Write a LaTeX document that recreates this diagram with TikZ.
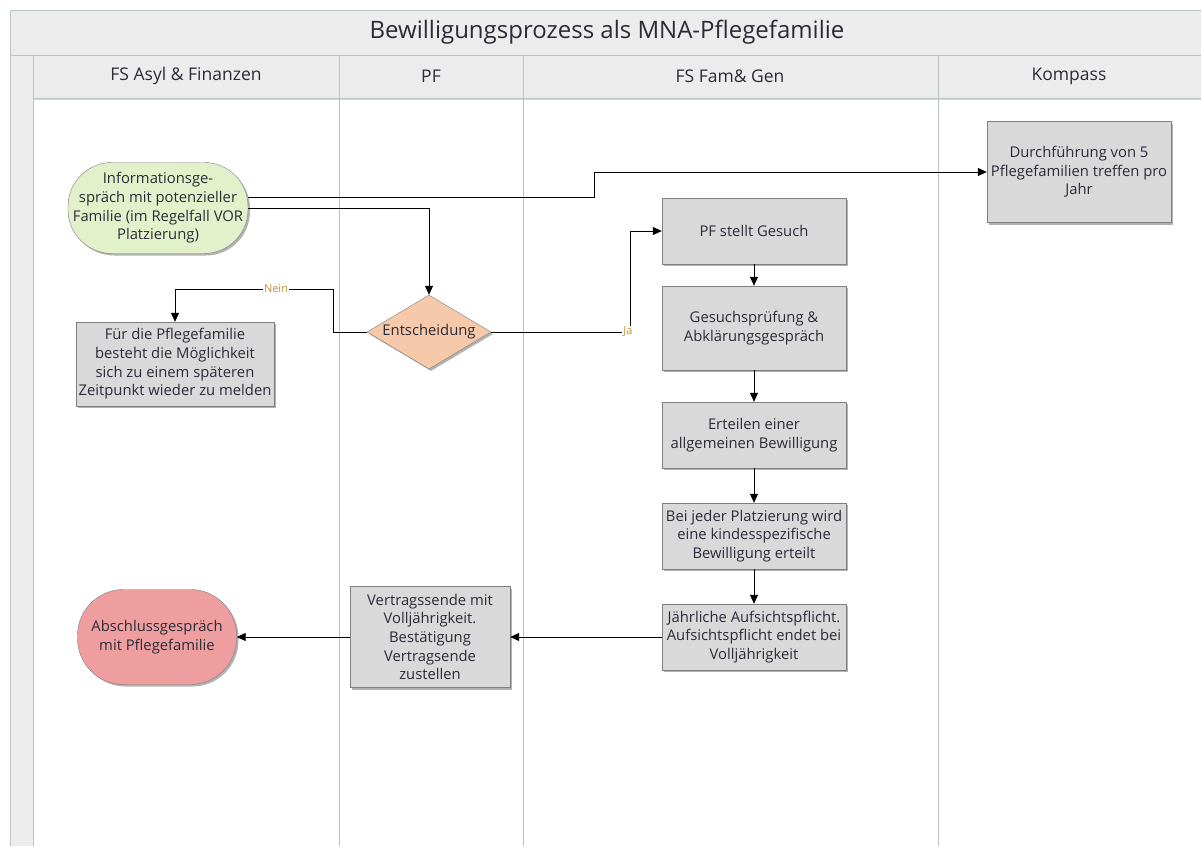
\documentclass[tikz,border=0pt]{standalone}
\usepackage{fontspec}
\setmainfont{Open Sans}
\usetikzlibrary{shapes.geometric,arrows.meta,shadows,calc}
\definecolor{frame}{HTML}{B7C7BF}
\definecolor{band}{HTML}{ECECEC}
\definecolor{boxfill}{HTML}{D9D9D9}
\definecolor{boxline}{HTML}{7F7F7F}
\definecolor{txt}{HTML}{2B2B38}
\definecolor{startfill}{HTML}{E3F1CB}
\definecolor{endfill}{HTML}{EE9E9E}
\definecolor{decfill}{HTML}{F5C9A9}
\definecolor{lbl}{HTML}{C0913A}
\begin{document}
\begin{tikzpicture}[x=1pt,y=-1pt,
  font=\fontsize{14.8}{18.7}\selectfont,
  shade/.style={drop shadow={shadow xshift=2pt,shadow yshift=-2pt,opacity=0.3,fill=black}},
  proc/.style={rectangle,draw=boxline,fill=boxfill,text=txt,align=center,
    minimum width=184pt,inner sep=1pt,shade},
  term/.style={rectangle,draw=boxline,text=txt,align=center,
    inner sep=1pt,shade},
  decision/.style={diamond,draw=boxline,fill=decfill,text=txt,aspect=1.68,
    minimum width=124pt,minimum height=74pt,inner sep=0pt,shade},
  arr/.style={draw=black,line width=0.8pt,-{Triangle[length=9pt,width=8pt]}},
  lane/.style={draw=frame,line width=0.9pt},
  head/.style={text=txt,font=\fontsize{17.5}{20}\selectfont},
  yn/.style={text=lbl,fill=white,inner sep=1pt,font=\fontsize{11}{13}\selectfont}]
\useasboundingbox (0,0) rectangle (1201,846);
\fill[white] (0,0) rectangle (1201,846);

% pool and lanes
\fill[band] (10,10) rectangle (1201,55);
\fill[band] (10,55) rectangle (33,846);
\fill[band] (33,55) rectangle (1201,98);
\draw[lane] (1201,10) -- (10,10) -- (10,846);
\draw[lane] (10,55) -- (1201,55);
\draw[lane] (33,98) -- (1201,98);
\draw[draw=black!15,line width=1.5pt] (33,99.5) -- (1201,99.5);
\foreach \x in {33,339,523,938} \draw[lane] (\x,55) -- (\x,846);

\node[text=txt,font=\fontsize{24}{28}\selectfont] (title) at (607,32) {Bewilligungsprozess als MNA-Pflegefamilie};
\node[head] (h1) at (186,76) {FS Asyl \& Finanzen};
\node[head] (h2) at (431,76) {PF};
\node[head] (h3) at (730,76) {FS Fam\& Gen};
\node[head] (h4) at (1069,76) {Kompass};

% process steps
\node[term,fill=startfill,rounded corners=44pt,minimum width=180pt,minimum height=91pt] (info) at (158,208)
  {Informationsge-\\spräch mit potenzieller\\Familie (im Regelfall VOR\\Platzierung)};
\node[proc,minimum height=101pt] (kompass) at (1079,172)
  {Durchführung von 5\\Pflegefamilien treffen pro\\Jahr};
\node[decision] (dec) at (429,332) {Entscheidung};
\node[proc,minimum width=198pt,minimum height=84pt] (later) at (175,364)
  {Für die Pflegefamilie\\besteht die Möglichkeit\\sich zu einem späteren\\Zeitpunkt wieder zu melden};
\node[proc,minimum height=66pt] (gesuch) at (754,231) {PF stellt Gesuch};
\node[proc,minimum height=84pt] (pruef) at (754,328) {Gesuchsprüfung \&\\Abklärungsgespräch};
\node[proc,minimum height=66pt] (allg) at (754,435) {Erteilen einer\\allgemeinen Bewilligung};
\node[proc,minimum height=66pt] (kind) at (754,536) {Bei jeder Platzierung wird\\eine kindesspezifische\\Bewilligung erteilt};
\node[proc,minimum height=66pt] (aufsicht) at (754,637) {Jährliche Aufsichtspflicht.\\Aufsichtspflicht endet bei\\Volljährigkeit};
\node[proc,minimum width=160pt,minimum height=101pt] (vertrag) at (430,637)
  {Vertragssende mit\\Volljährigkeit.\\Bestätigung\\Vertragsende\\zustellen};
\node[term,fill=endfill,rounded corners=46pt,minimum width=159pt,minimum height=95pt] (ende) at (157,637)
  {Abschlussgespräch\\mit Pflegefamilie};

% connectors
\draw[arr] ($(info.east)+(0,-11)$) -- (594,197) -- (594,172) -- (kompass.west);
\draw[arr] (info.east) -| (dec.north);
\draw[arr] (dec.west) -| (333,289) -| (later.north);
\node[yn] (nein) at (276,289) {Nein};
\draw[arr] (dec.east) -| (630,231) -- (gesuch.west);
\node[yn] (ja) at (628,332) {Ja};
\draw[arr] (gesuch) -- (pruef);
\draw[arr] (pruef) -- (allg);
\draw[arr] (allg) -- (kind);
\draw[arr] (kind) -- (aufsicht);
\draw[arr] (aufsicht) -- (vertrag);
\draw[arr] (vertrag) -- (ende);
\end{tikzpicture}
\end{document}
